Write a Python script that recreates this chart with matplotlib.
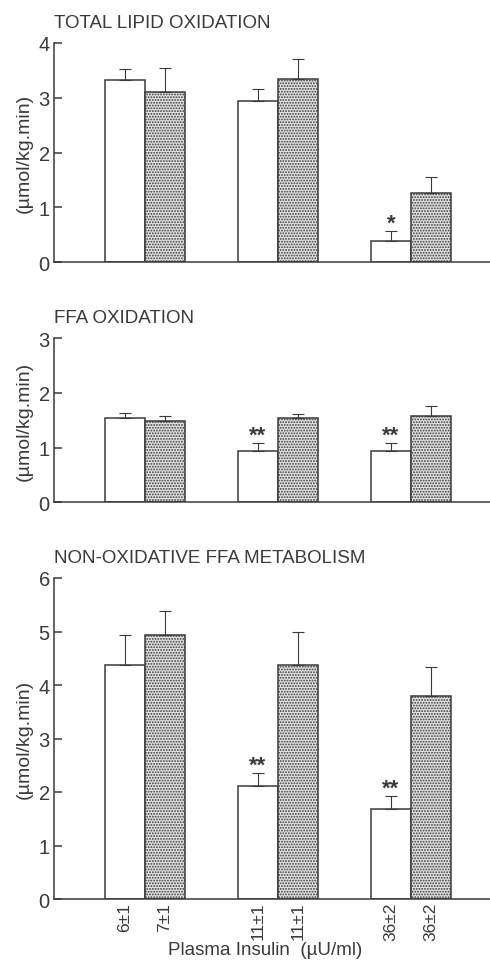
import numpy as np
import matplotlib.pyplot as plt
from matplotlib.transforms import offset_copy

plt.rcParams['font.family'] = ['Liberation Sans', 'DejaVu Sans']
plt.rcParams['hatch.linewidth'] = 0.9

# data (two groups of bars per insulin level)
insulin_a = ["6±1", "11±1", "36±2"]
insulin_b = ["7±1", "11±1", "36±2"]

titles = ["TOTAL LIPID OXIDATION", "FFA OXIDATION", "NON-OXIDATIVE FFA METABOLISM"]
ymax = [4, 3, 6]

open_vals = [[3.32, 2.95, 0.39], [1.54, 0.93, 0.94], [4.37, 2.12, 1.69]]
open_err = [[0.20, 0.22, 0.19], [0.09, 0.15, 0.14], [0.56, 0.23, 0.24]]
dot_vals = [[3.10, 3.34, 1.27], [1.49, 1.54, 1.58], [4.93, 4.37, 3.79]]
dot_err = [[0.44, 0.37, 0.28], [0.09, 0.08, 0.18], [0.46, 0.63, 0.55]]
stars = [["", "", "*"], ["", "**", "**"], ["", "**", "**"]]

ink = "#3a3a3a"
W, H = 490, 962
fig = plt.figure(figsize=(4.9, 9.62), dpi=100)

# axes boxes in pixels: (top, bottom)
boxes = [(44, 263.3), (339.3, 503.3), (579, 900)]
left_px = 54
w = 0.3
x = np.arange(3)

for i, (top, bot) in enumerate(boxes):
    ax = fig.add_axes([left_px / W, 1 - bot / H, 1 - left_px / W, (bot - top) / H])
    ax.bar(x - w / 2, open_vals[i], w, color="white", edgecolor=ink, linewidth=1.1, zorder=2)
    ax.bar(x + w / 2, dot_vals[i], w, color="#e2e2e2", edgecolor=ink, linewidth=1.1,
           hatch="......", zorder=2)
    zeros = np.zeros(3)
    ax.errorbar(x - w / 2, open_vals[i], yerr=[zeros, open_err[i]], fmt="none",
                ecolor=ink, elinewidth=0.8, capsize=4.3, capthick=0.8, zorder=3)
    ax.errorbar(x + w / 2, dot_vals[i], yerr=[zeros, dot_err[i]], fmt="none",
                ecolor=ink, elinewidth=0.8, capsize=4.3, capthick=0.8, zorder=3)
    for j, s in enumerate(stars[i]):
        if s:
            ax.annotate(s, (x[j] - w / 2, open_vals[i][j] + open_err[i][j]),
                        xytext=(0, -2), textcoords="offset points", ha="center",
                        va="bottom", fontsize=16, color=ink, fontweight="bold")

    ax.set_xlim(-0.684, 2.594)
    ax.set_ylim(0, ymax[i])
    ax.set_yticks(range(ymax[i] + 1))
    ax.spines[["top", "right"]].set_visible(False)
    for sp in ["left", "bottom"]:
        ax.spines[sp].set_color(ink)
        ax.spines[sp].set_linewidth(1.1)
    ax.tick_params(axis="y", direction="in", length=5.5, width=1.1, color=ink,
                   labelsize=14.5, labelcolor=ink, pad=3)
    ax.set_ylabel("(µmol/kg.min)", fontsize=14, color=ink, labelpad=4)

    tr = offset_copy(ax.transAxes, fig=fig, x=0, y=16, units="dots")
    ax.text(0, 1, titles[i], transform=tr, fontsize=13.5, color=ink,
            ha="left", va="baseline")

    if i < 2:
        ax.set_xticks([])
    else:
        pos = np.concatenate([x - w / 2, x + w / 2])
        ax.set_xticks(pos, insulin_a + insulin_b, rotation=90, fontsize=12.5, color=ink)
        ax.tick_params(axis="x", length=0, pad=2)

fig.text(265 / W, 1 - 955 / H, "Plasma Insulin  (µU/ml)", fontsize=13.5, color=ink,
         ha="center", va="baseline")

fig.savefig("out.png", dpi=100)
